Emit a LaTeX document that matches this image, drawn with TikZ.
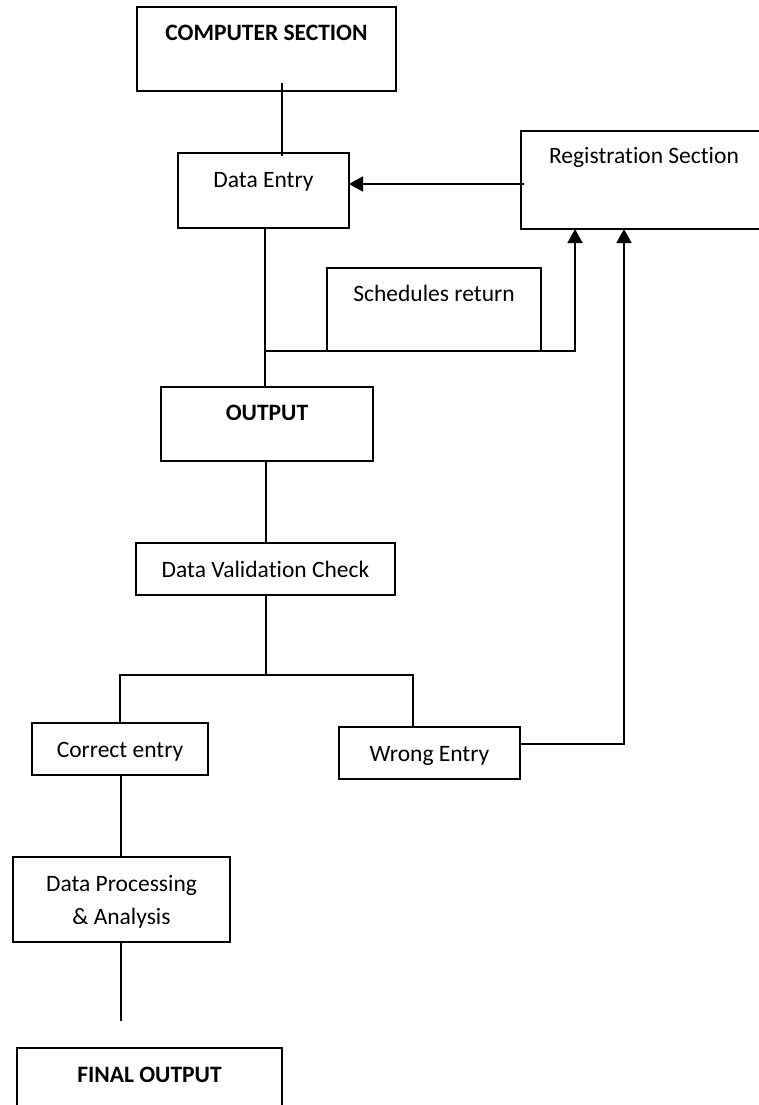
\documentclass[tikz,border=0pt]{standalone}
\usepackage{fontspec}
\setmainfont[Ligatures={NoCommon,TeX}]{Carlito}
\usetikzlibrary{arrows.meta,calc}
\tikzset{
  box/.style={draw=black, line width=1.6pt, rectangle, inner sep=0pt, outer sep=0pt},
  lbl/.style={anchor=base, inner sep=0pt, font=\fontsize{23.5}{28}\selectfont, text=black},
  blbl/.style={lbl, font=\fontsize{23.5}{28}\selectfont\bfseries},
  conn/.style={draw=black, line width=1.6pt},
  arr/.style={conn, -{Triangle[width=15pt,length=14pt]}},
}
\begin{document}
\begin{tikzpicture}[x=1pt, y=-1pt]
\useasboundingbox (0,0) rectangle (758,1105);
\fill[white] (0,0) rectangle (758,1105);

% boxes
\node[box, minimum width=259pt, minimum height=84pt,
      label={[blbl,yshift=-34pt]north:COMPUTER SECTION}] (cs) at (266.5,49) {};
\node[box, minimum width=171pt, minimum height=75pt,
      label={[lbl,yshift=-34.7pt]north:Data Entry}] (de) at (263.5,190.5) {};
\node[box, minimum width=246pt, minimum height=98pt,
      label={[lbl,yshift=-32pt]north:Registration Section}] (rs) at (644,180) {};
\node[box, minimum width=214pt, minimum height=83pt,
      label={[lbl,yshift=-33.7pt]north:Schedules return}] (sr) at (434,309.5) {};
\node[box, minimum width=212pt, minimum height=74pt,
      label={[blbl,yshift=-33pt]north:OUTPUT}] (out) at (267,424) {};
\node[box, minimum width=259pt, minimum height=52pt,
      label={[lbl,yshift=-34.7pt]north:Data Validation Check}] (dvc) at (265.5,569) {};
\node[box, minimum width=176pt, minimum height=52pt,
      label={[lbl,yshift=-34pt]north:Correct entry}] (ce) at (120,749) {};
\node[box, minimum width=181pt, minimum height=52pt,
      label={[lbl,yshift=-34pt]north:Wrong Entry}] (we) at (429.5,753) {};
\node[box, minimum width=217pt, minimum height=85pt,
      label={[lbl,yshift=-34pt]north:Data Processing},
      label={[lbl,yshift=-67pt]north:\& Analysis}] (dpa) at (121.5,899.5) {};
\node[box, minimum width=265pt, minimum height=80pt,
      label={[blbl,yshift=-34pt]north:FINAL OUTPUT}] (fo) at (149.5,1088) {};

% helper coordinates
\coordinate (j) at (265,351);
\coordinate (br) at (266,675);
\coordinate (fe) at (121,1021);

% connectors
\draw[conn] ([xshift=15.5pt,yshift=8pt]cs.south) -- ([xshift=18.5pt,yshift=-3pt]de.north);
\draw[arr] ([xshift=3pt,yshift=-4pt]rs.west) -- ([yshift=-4pt]rs.west -| de.east);
\draw[conn] (de.south -| j) -- (j) -- (j |- out.north);
\draw[arr] (j) -| ([xshift=-69pt]rs.south);
\draw[conn] (out.south -| br) -- (br |- dvc.north);
\draw[conn] (dvc.south -| br) -- (br);
\draw[conn] (ce.north) |- (br) -| ([xshift=-16.5pt]we.north);
\draw[arr] ([yshift=9pt]we.east) -| ([xshift=-20pt]rs.south);
\draw[conn] (ce.south -| fe) -- (fe |- dpa.north);
\draw[conn] (dpa.south -| fe) -- (fe);
\end{tikzpicture}
\end{document}
